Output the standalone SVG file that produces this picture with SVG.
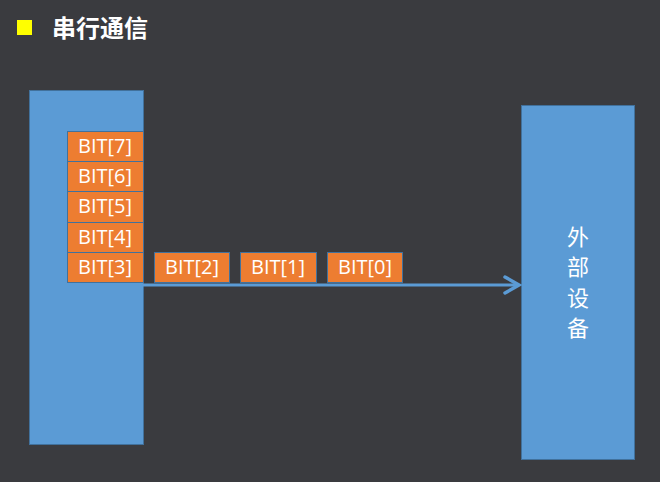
<svg xmlns="http://www.w3.org/2000/svg" width="660" height="482" viewBox="0 0 660 482">
<style>
.box{fill:#5b9bd5;stroke:#41719c;stroke-width:1}
.bit{fill:#ed7d31;stroke:#41719c;stroke-width:1}
.bt{fill:#fff;font-family:"Open Sans","Liberation Sans",sans-serif;font-size:20px;text-anchor:middle}
.cjk{fill:#fff;font-family:"Noto Sans CJK SC",sans-serif;font-size:22px;text-anchor:middle}
</style>
<rect width="660" height="482" fill="#3a3b3f"/>
<g id="title">
<rect x="17" y="20" width="15" height="15" fill="#ffff00"/>
<text x="52" y="37" fill="#fff" font-family="'Noto Sans CJK SC',sans-serif" font-size="24" font-weight="bold">串行通信</text>
</g>
<g id="cpu"><rect class="box" x="29.500" y="90.500" width="114" height="354"/></g>
<g id="device"><rect class="box" x="521.500" y="105.500" width="113" height="354"/>
<text class="cjk" x="578" y="245">外</text>
<text class="cjk" x="578" y="275">部</text>
<text class="cjk" x="578" y="306">设</text>
<text class="cjk" x="578" y="336">备</text>
</g>
<g id="connectors">
<line x1="143" y1="285" x2="519" y2="285" stroke="#5b9bd5" stroke-width="3"/>
<polyline points="505,277 519,285 505,293" fill="none" stroke="#5b9bd5" stroke-width="3.500" stroke-linecap="round" stroke-linejoin="miter"/>
</g>
<g id="bit7"><rect class="bit" x="67.500" y="131.500" width="76" height="30"/><text class="bt" x="105" y="153">BIT[7]</text></g>
<g id="bit6"><rect class="bit" x="67.500" y="161.500" width="76" height="30"/><text class="bt" x="105" y="183">BIT[6]</text></g>
<g id="bit5"><rect class="bit" x="67.500" y="191.500" width="76" height="31"/><text class="bt" x="105" y="213">BIT[5]</text></g>
<g id="bit4"><rect class="bit" x="67.500" y="222.500" width="76" height="30"/><text class="bt" x="105" y="244">BIT[4]</text></g>
<g id="bit3"><rect class="bit" x="67.500" y="252.500" width="76" height="30"/><text class="bt" x="105" y="274">BIT[3]</text></g>
<g id="bit2"><rect class="bit" x="154.500" y="252.500" width="75" height="30"/><text class="bt" x="192" y="274">BIT[2]</text></g>
<g id="bit1"><rect class="bit" x="240.500" y="252.500" width="76" height="30"/><text class="bt" x="278" y="274">BIT[1]</text></g>
<g id="bit0"><rect class="bit" x="327.500" y="252.500" width="75" height="30"/><text class="bt" x="365" y="274">BIT[0]</text></g>
</svg>
